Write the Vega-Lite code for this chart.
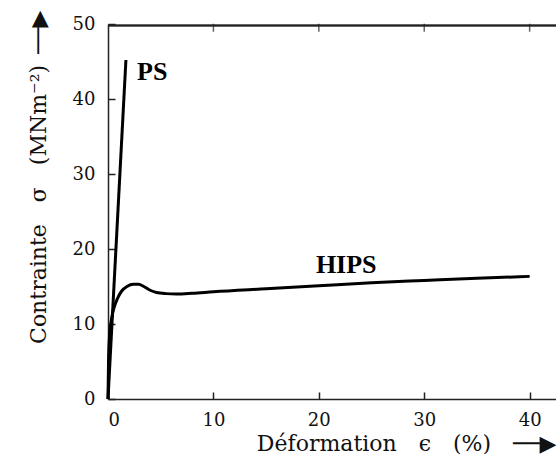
{
  "$schema": "https://vega.github.io/schema/vega-lite/v6.json",
  "autosize": {"type": "none"},
  "padding": {"left": 108, "top": 24, "right": 0, "bottom": 55},
  "width": 448,
  "height": 375,
  "background": "white",
  "config": {
    "view": {"stroke": null},
    "font": "DejaVu Serif",
    "axis": {
      "domainColor": "#222",
      "domainWidth": 1.5,
      "tickColor": "#222",
      "tickWidth": 1.5,
      "grid": false,
      "labelFont": "DejaVu Serif",
      "labelFontSize": 18,
      "labelColor": "#111",
      "titleFont": "DejaVu Serif",
      "titleFontWeight": "normal",
      "titleColor": "#111"
    }
  },
  "datasets": {
    "curves": [
      {"series": "PS", "i": 0, "x": 0, "y": 0},
      {"series": "PS", "i": 1, "x": 1.7, "y": 45.2},
      {"series": "HIPS", "i": 0, "x": 0, "y": 0},
      {"series": "HIPS", "i": 1, "x": 0.05, "y": 5},
      {"series": "HIPS", "i": 2, "x": 0.15, "y": 8.5},
      {"series": "HIPS", "i": 3, "x": 0.35, "y": 10.8},
      {"series": "HIPS", "i": 4, "x": 0.6, "y": 12.3},
      {"series": "HIPS", "i": 5, "x": 0.9, "y": 13.4},
      {"series": "HIPS", "i": 6, "x": 1.3, "y": 14.4},
      {"series": "HIPS", "i": 7, "x": 1.8, "y": 15.0},
      {"series": "HIPS", "i": 8, "x": 2.4, "y": 15.3},
      {"series": "HIPS", "i": 9, "x": 2.9, "y": 15.3},
      {"series": "HIPS", "i": 10, "x": 3.4, "y": 15.0},
      {"series": "HIPS", "i": 11, "x": 4.0, "y": 14.5},
      {"series": "HIPS", "i": 12, "x": 4.6, "y": 14.2},
      {"series": "HIPS", "i": 13, "x": 5.5, "y": 14.05},
      {"series": "HIPS", "i": 14, "x": 6.5, "y": 14.0},
      {"series": "HIPS", "i": 15, "x": 8, "y": 14.1},
      {"series": "HIPS", "i": 16, "x": 10, "y": 14.3},
      {"series": "HIPS", "i": 17, "x": 15, "y": 14.7},
      {"series": "HIPS", "i": 18, "x": 20, "y": 15.1},
      {"series": "HIPS", "i": 19, "x": 25, "y": 15.5},
      {"series": "HIPS", "i": 20, "x": 30, "y": 15.8},
      {"series": "HIPS", "i": 21, "x": 35, "y": 16.1},
      {"series": "HIPS", "i": 22, "x": 40, "y": 16.35}
    ],
    "labels": [
      {"x": 4.2, "y": 43.6, "label": "PS"},
      {"x": 22.6, "y": 17.9, "label": "HIPS"}
    ],
    "topticks": [{"x": 10}, {"x": 20}, {"x": 30}, {"x": 40}]
  },
  "layer": [
    {
      "data": {"name": "curves"},
      "mark": {"type": "line", "color": "black", "strokeWidth": 3, "interpolate": "monotone"},
      "encoding": {
        "x": {
          "field": "x", "type": "quantitative",
          "scale": {"domain": [0, 42.5], "nice": false},
          "axis": {
            "values": [0, 10, 20, 30, 40],
            "tickSize": -7,
            "labelPadding": 19,
            "title": "Déformation\u2002\u2002ϵ\u2002\u2002(%)\u2002\u2002──▶",
            "titleFontSize": 22,
            "titleX": 448,
            "titleAlign": "right",
            "titlePadding": 4
          }
        },
        "y": {
          "field": "y", "type": "quantitative",
          "scale": {"domain": [0, 50], "nice": false},
          "axis": {
            "values": [0, 10, 20, 30, 40, 50],
            "tickSize": -7,
            "labelPadding": 20,
            "title": "Contrainte\u2002\u2002σ\u2002\u2002(MNm⁻²)\u2002──▶",
            "titleFontSize": 22,
            "titleY": -14,
            "titleAlign": "right",
            "titlePadding": 22
          }
        },
        "detail": {"field": "series"},
        "order": {"field": "i", "type": "quantitative"}
      }
    },
    {
      "data": {"name": "labels"},
      "mark": {"type": "text", "font": "Liberation Serif", "fontWeight": "bold", "fontSize": 26, "align": "center", "baseline": "middle", "color": "black"},
      "encoding": {
        "x": {"field": "x", "type": "quantitative"},
        "y": {"field": "y", "type": "quantitative"},
        "text": {"field": "label"}
      }
    },
    {
      "data": {"name": "topticks"},
      "mark": {"type": "tick", "orient": "vertical", "color": "#222", "thickness": 1.5, "size": 8},
      "encoding": {
        "x": {"field": "x", "type": "quantitative"},
        "y": {"datum": 49.5, "type": "quantitative"}
      }
    },
    {
      "data": {"name": "topticks"},
      "mark": {"type": "rule", "color": "#222", "strokeWidth": 1.5},
      "encoding": {
        "x": {"datum": 0, "type": "quantitative"},
        "x2": {"datum": 42.5},
        "y": {"datum": 49.8, "type": "quantitative"}
      }
    }
  ]
}
